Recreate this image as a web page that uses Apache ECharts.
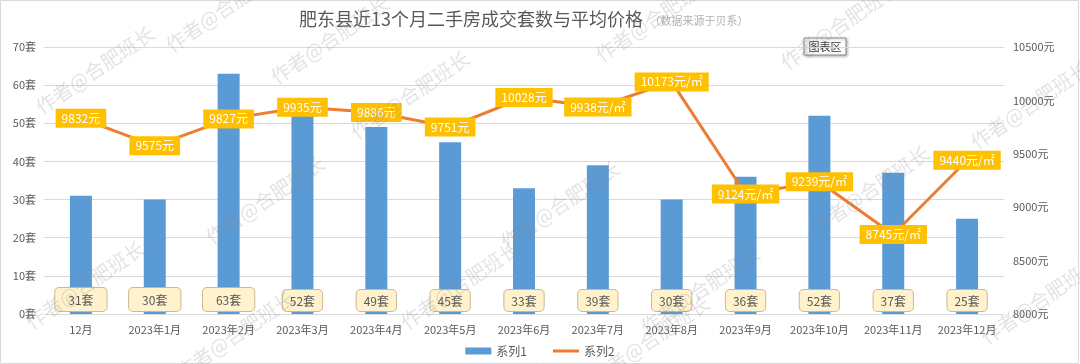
<!DOCTYPE html>
<html><head><meta charset="utf-8">
<script src="https://cdn.jsdelivr.net/npm/echarts@6/dist/echarts.min.js"></script>
<style>html,body{margin:0;padding:0;background:#fff}#c{width:1080px;height:364px}</style>
</head><body><div id="c"></div>
<script>
var categories = ['12月','2023年1月','2023年2月','2023年3月','2023年4月','2023年5月','2023年6月','2023年7月','2023年8月','2023年9月','2023年10月','2023年11月','2023年12月'];
var salesCount = [31,30,63,52,49,45,33,39,30,36,52,37,25];
var avgPrice = [9832,9575,9827,9935,9886,9751,10028,9938,10173,9124,9239,8745,9440];
var priceSuffix = ['元','元','元','元','元','元','元','元/㎡','元/㎡','元/㎡','元/㎡','元/㎡','元/㎡'];
var leftTicks = {min:0, max:70, interval:10, unit:'套'};
var rightTicks = {min:8000, max:10500, interval:500, unit:'元'};

var font = '"Noto Sans CJK SC", "Microsoft YaHei", sans-serif';
var chart = echarts.init(document.getElementById('c'));

var wm = [[95,70],[85,285],[225,8],[410,95],[265,200],[560,205],[460,285],[235,335],[655,18],[840,25],[1030,105],[870,190],[700,290],[650,340],[1040,300],[330,40]];
var graphics = wm.map(function(p){
  return {type:'text', x:p[0], y:p[1], rotation:0.6, z:100, silent:true,
    style:{text:'作者@合肥班长', fill:'rgba(140,140,140,0.24)', font:'20px '+font, align:'center', verticalAlign:'middle'}};
});
graphics.push({type:'rect', shape:{x:0.5,y:0.5,width:1078,height:363}, style:{fill:'none', stroke:'#d9d9d9', lineWidth:1}, silent:true});
graphics.push({type:'group', x:804, y:38, z:110, children:[
  {type:'rect', shape:{x:0,y:0,width:42,height:17}, style:{fill:'#fff', stroke:'#8c8c8c', lineWidth:1, shadowBlur:3, shadowColor:'rgba(0,0,0,0.3)', shadowOffsetX:1, shadowOffsetY:1}},
  {type:'text', x:21, y:9, style:{text:'图表区', fill:'#333', font:'11px '+font, align:'center', verticalAlign:'middle'}}
]});

chart.setOption({
  animation:false,
  textStyle:{fontFamily:font},
  title:{
    text:'{a|肥东县近13个月二手房成交套数与平均价格}{b| （数据来源于贝系）}',
    left:294, top:5,
    textStyle:{fontWeight:'normal', rich:{a:{fontSize:18, color:'#595959', fontFamily:font, fontWeight:'normal'}, b:{fontSize:11, color:'#b0b0b0', fontFamily:font, fontWeight:'normal', padding:[4,0,0,4]}}}
  },
  legend:{
    bottom:2, left:'center', itemGap:26, itemWidth:26, itemHeight:7,
    textStyle:{color:'#595959', fontSize:12},
    data:[{name:'系列1', icon:'rect'},{name:'系列2', icon:'path://M0,0H26V3H0Z'}]
  },
  grid:{left:44, right:76, top:47, bottom:50},
  xAxis:{
    type:'category', data:categories,
    axisLine:{lineStyle:{color:'#d9d9d9'}}, axisTick:{show:false},
    axisLabel:{color:'#595959', fontSize:11, margin:10, interval:0}
  },
  yAxis:[
    {type:'value', min:leftTicks.min, max:leftTicks.max, interval:leftTicks.interval,
     axisLabel:{formatter:function(v){return v + leftTicks.unit;}, color:'#595959', fontSize:11, margin:8},
     splitLine:{lineStyle:{color:'#d9d9d9'}}, axisLine:{show:false}, axisTick:{show:false}},
    {type:'value', min:rightTicks.min, max:rightTicks.max, interval:rightTicks.interval,
     axisLabel:{formatter:function(v){return v + rightTicks.unit;}, color:'#595959', fontSize:11, margin:9},
     splitLine:{show:false}, axisLine:{show:false}, axisTick:{show:false}}
  ],
  series:[
    {name:'系列1', type:'bar', barWidth:22, yAxisIndex:0,
     itemStyle:{color:'#5B9BD5'},
     data:salesCount.map(function(v,i){
       return {value:v, label:{padding: i<3 ? [6,13,5,13] : [5,7,4,7]}};
     }),
     label:{show:true, position:'insideBottom', distance:3, formatter:'{c}套',
       color:'#595959', fontSize:12, backgroundColor:'#FFF2CC', borderColor:'#C8BA94', borderWidth:1, borderRadius:4}
    },
    {name:'系列2', type:'line', yAxisIndex:1, data:avgPrice, symbol:'circle', symbolSize:1,
     lineStyle:{color:'#ED7D31', width:3}, itemStyle:{color:'#ED7D31'},
     label:{show:true, position:'inside', color:'#fff', fontSize:12, backgroundColor:'#FFC000', padding:[4,6,3,6],
       formatter:function(p){return p.value + priceSuffix[p.dataIndex];}}
    }
  ],
  graphic:graphics
});
</script></body></html>
